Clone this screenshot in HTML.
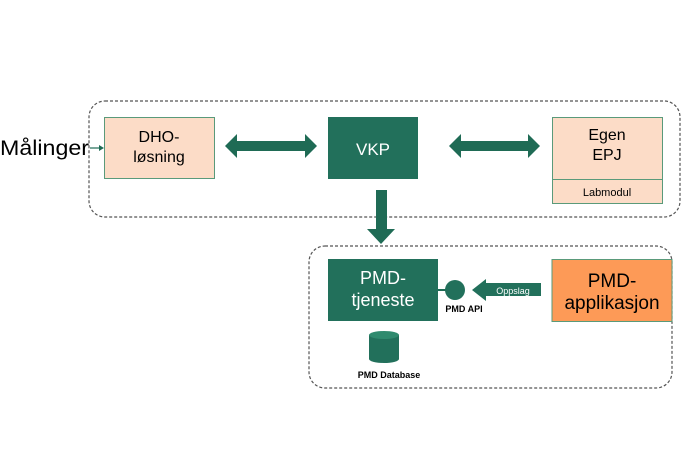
<!DOCTYPE html>
<html><head><style>body{margin:0;background:#fff}</style></head><body>
<svg width="683" height="455" xmlns="http://www.w3.org/2000/svg" font-family="Liberation Sans, sans-serif">
<rect x="89" y="101" width="591" height="116" rx="16" fill="none" stroke="#555" stroke-width="1.2" stroke-dasharray="3,2"/>
<rect x="309" y="246" width="363" height="142" rx="16" fill="none" stroke="#555" stroke-width="1.2" stroke-dasharray="3,2"/>
<text x="0" y="155" font-size="21" fill="#000" textLength="89" lengthAdjust="spacingAndGlyphs">Målinger</text>
<line x1="90" y1="148" x2="100" y2="148" stroke="#1f6b55" stroke-width="1.2"/>
<polygon points="104,148 99,145 99,151" fill="#1f6b55"/>
<rect x="104.5" y="117.5" width="110" height="61" fill="#fcdcc7" stroke="#5a9a7a"/>
<text x="159" y="142" font-size="16" text-anchor="middle">DHO-</text>
<text x="159" y="162" font-size="16" text-anchor="middle">løsning</text>
<polygon points="225,146 237,134 237,141 305,141 305,134 317,146 305,158 305,151 237,151 237,158" fill="#1f6b55"/>
<rect x="328" y="117" width="90" height="62" fill="#22705b"/>
<text x="373" y="155" font-size="17" fill="#fff" text-anchor="middle">VKP</text>
<polygon points="449,146 461,134 461,141 528,141 528,134 540,146 528,158 528,151 461,151 461,158" fill="#1f6b55"/>
<rect x="552.5" y="117.5" width="110" height="86" fill="#fcdcc7" stroke="#5a9a7a"/>
<line x1="552" y1="179.5" x2="663" y2="179.5" stroke="#5a9a7a"/>
<text x="607" y="140" font-size="16" text-anchor="middle">Egen</text>
<text x="607" y="160" font-size="16" text-anchor="middle">EPJ</text>
<text x="607" y="196" font-size="11" text-anchor="middle">Labmodul</text>
<polygon points="376,190 387,190 387,229 395,229 381,244 367,229 376,229" fill="#1f6b55"/>
<rect x="328" y="259" width="110" height="62" fill="#22705b"/>
<text x="383" y="284" font-size="18" fill="#fff" text-anchor="middle">PMD-</text>
<text x="383" y="306" font-size="18" fill="#fff" text-anchor="middle">tjeneste</text>
<line x1="438" y1="290" x2="446" y2="290" stroke="#1f6b55" stroke-width="2"/>
<circle cx="455" cy="290" r="10" fill="#22705b"/>
<text x="464" y="312" font-size="9" font-weight="bold" text-anchor="middle">PMD API</text>
<polygon points="472,290 486,279 486,283 541,283 541,296 486,296 486,301" fill="#22705b"/>
<text x="513" y="294" font-size="9" fill="#fff" text-anchor="middle">Oppslag</text>
<rect x="552" y="259.5" width="120" height="62" fill="#fd9a57" stroke="#5a9a7a"/>
<text x="612" y="287" font-size="19" text-anchor="middle">PMD-</text>
<text x="612" y="309" font-size="19" text-anchor="middle">applikasjon</text>
<path d="M369,335 v24 a15,4 0 0 0 30,0 v-24" fill="#22705b"/>
<ellipse cx="384" cy="335" rx="15" ry="4" fill="#2f8a6e"/>
<text x="389" y="378" font-size="9" font-weight="bold" text-anchor="middle">PMD Database</text>
</svg>
</body></html>
